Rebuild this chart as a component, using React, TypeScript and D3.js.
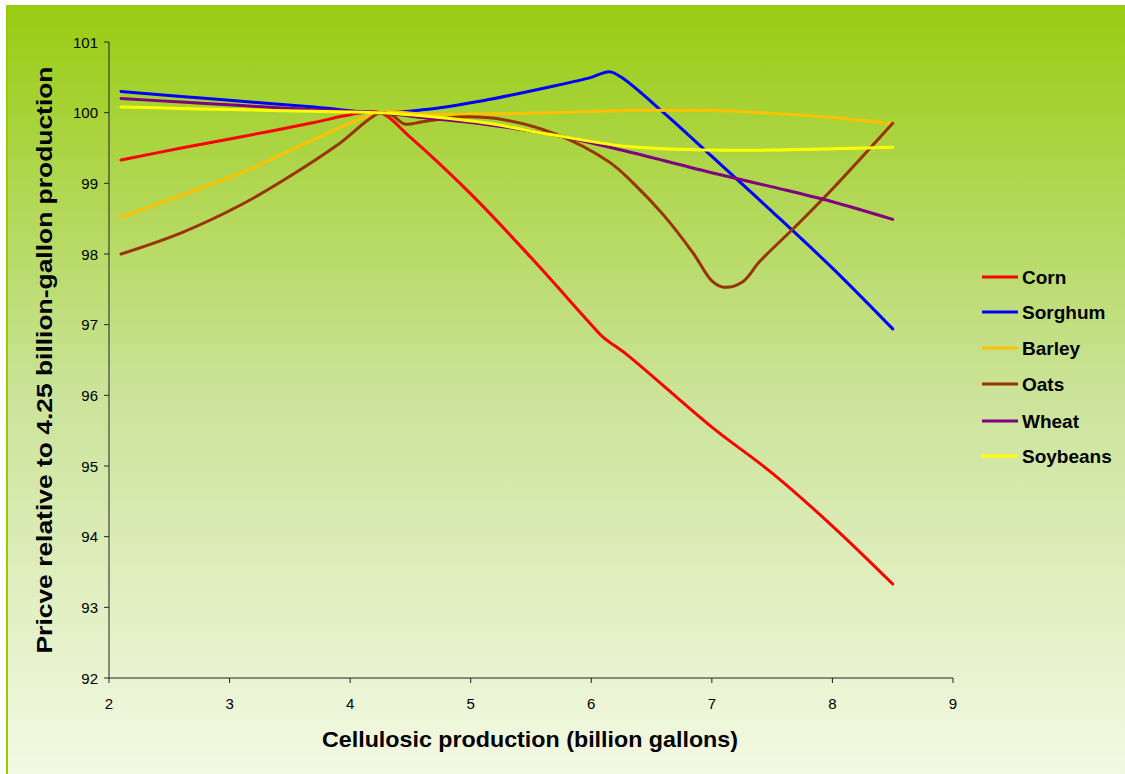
import React from 'react';
import * as d3 from 'd3';

const W = 1125;
const H = 774;

const xTicks = [2, 3, 4, 5, 6, 7, 8, 9];
const yTicks = [92, 93, 94, 95, 96, 97, 98, 99, 100, 101];

const seriesNames = ['Corn', 'Sorghum', 'Barley', 'Oats', 'Wheat', 'Soybeans'];
const seriesColors = ['#FF0000', '#0000FF', '#FFC000', '#993300', '#800080', '#FFFF00'];

const corn: [number, number][] = [
  [2.1, 99.33], [2.6, 99.5], [3.1, 99.66], [3.7, 99.86], [4.0, 99.97], [4.25, 100.0],
  [4.5, 99.65], [5.0, 98.85], [5.5, 97.95], [6.0, 97.0], [6.1, 96.82], [6.3, 96.57],
  [7.0, 95.55], [7.5, 94.9], [8.0, 94.15], [8.5, 93.33],
];
const sorghum: [number, number][] = [
  [2.1, 100.3], [2.6, 100.23], [3.1, 100.16], [3.7, 100.08], [4.25, 100.0], [4.6, 100.04],
  [5.1, 100.17], [5.7, 100.38], [6.0, 100.5], [6.15, 100.58], [6.25, 100.5], [6.6, 100.0],
  [7.0, 99.38], [7.5, 98.6], [8.0, 97.8], [8.5, 96.94],
];
const barley: [number, number][] = [
  [2.1, 98.52], [2.6, 98.83], [3.1, 99.15], [3.7, 99.62], [4.25, 100.0], [4.6, 99.98],
  [5.1, 99.98], [5.7, 100.0], [6.3, 100.03], [7.0, 100.03], [7.5, 99.99], [8.0, 99.93], [8.5, 99.84],
];
const oats: [number, number][] = [
  [2.1, 98.0], [2.6, 98.3], [3.1, 98.7], [3.5, 99.1], [3.9, 99.55], [4.25, 100.0],
  [4.35, 99.96], [4.45, 99.84], [4.6, 99.87], [4.9, 99.94], [5.2, 99.92], [5.7, 99.7],
  [6.15, 99.3], [6.35, 99.0], [6.6, 98.55], [6.85, 98.0], [7.0, 97.62], [7.1, 97.53],
  [7.25, 97.6], [7.4, 97.9], [7.7, 98.4], [8.0, 98.92], [8.5, 99.85],
];
const wheat: [number, number][] = [
  [2.1, 100.2], [2.6, 100.15], [3.1, 100.1], [3.7, 100.04], [4.25, 100.0], [4.6, 99.93],
  [5.1, 99.84], [5.7, 99.68], [6.3, 99.45], [7.0, 99.15], [7.5, 98.95], [8.0, 98.74], [8.5, 98.49],
];
const soybeans: [number, number][] = [
  [2.1, 100.08], [2.6, 100.06], [3.1, 100.04], [3.7, 100.02], [4.25, 100.0], [4.5, 99.97],
  [5.1, 99.86], [5.7, 99.68], [6.3, 99.52], [7.0, 99.47], [7.5, 99.47], [8.0, 99.49], [8.5, 99.51],
];

const seriesData = [corn, sorghum, barley, oats, wheat, soybeans];

const xTitle = 'Cellulosic production (billion gallons)';
const yTitle = 'Pricve relative to 4.25 billion-gallon production';

export default function App() {
  const x = d3.scaleLinear().domain([2, 9]).range([109, 953]);
  const y = d3.scaleLinear().domain([92, 101]).range([678, 42]);
  const line = d3
    .line<[number, number]>()
    .x((d) => x(d[0]))
    .y((d) => y(d[1]))
    .curve(d3.curveCatmullRom.alpha(0.5));

  const font = 'Arial, "Liberation Sans", sans-serif';
  const legendY = [277, 312, 348, 384, 421, 456];

  return (
    <svg
      width={W}
      height={H}
      style={{ position: 'absolute', left: 0, top: 0 }}
      xmlns="http://www.w3.org/2000/svg"
    >
      <defs>
        <linearGradient id="bg" x1="0" y1="0" x2="0" y2="1">
          <stop offset="0%" stopColor="rgb(153,204,17)" />
          <stop offset="50%" stopColor="rgb(202,227,152)" />
          <stop offset="100%" stopColor="rgb(244,249,228)" />
        </linearGradient>
      </defs>
      <rect x={0} y={0} width={W} height={H} fill="#ffffff" />
      <rect x={6} y={5} width={W - 6} height={H - 5} fill="url(#bg)" />
      <line x1={7} y1={5} x2={7} y2={H} stroke="#99CC00" strokeWidth={2} />

      {/* axes */}
      <line x1={x(2)} y1={y(92)} x2={x(9)} y2={y(92)} stroke="#222" strokeWidth={1} />
      <line x1={x(2)} y1={y(92)} x2={x(2)} y2={y(101)} stroke="#222" strokeWidth={1} />
      {xTicks.map((t) => (
        <g key={'xt' + t}>
          <line x1={x(t)} y1={y(92)} x2={x(t)} y2={y(92) + 5} stroke="#222" />
          <text x={x(t)} y={709} textAnchor="middle" fontFamily={font} fontSize={15} fill="#000">
            {t}
          </text>
        </g>
      ))}
      {yTicks.map((t) => (
        <g key={'yt' + t}>
          <line x1={x(2) - 5} y1={y(t)} x2={x(2)} y2={y(t)} stroke="#222" />
          <text x={98} y={y(t) + 5.5} textAnchor="end" fontFamily={font} fontSize={15} fill="#000">
            {t}
          </text>
        </g>
      ))}

      {/* series */}
      {seriesData.map((d, i) => (
        <path
          key={seriesNames[i]}
          d={line(d) || ''}
          fill="none"
          stroke={seriesColors[i]}
          strokeWidth={3}
          strokeLinejoin="round"
          strokeLinecap="round"
        />
      ))}

      {/* titles */}
      <text
        x={530}
        y={747}
        textAnchor="middle"
        fontFamily={font}
        fontWeight="bold"
        fontSize={21.5}
        textLength={416}
        lengthAdjust="spacingAndGlyphs"
        fill="#000"
      >
        {xTitle}
      </text>
      <text
        transform={`translate(52,${(y(92) + y(101)) / 2}) rotate(-90)`}
        x={0}
        y={0}
        textAnchor="middle"
        fontFamily={font}
        fontWeight="bold"
        fontSize={22.5}
        textLength={587}
        lengthAdjust="spacingAndGlyphs"
        fill="#000"
      >
        {yTitle}
      </text>

      {/* legend */}
      {seriesNames.map((n, i) => (
        <g key={'lg' + n}>
          <line x1={982} y1={legendY[i]} x2={1018} y2={legendY[i]} stroke={seriesColors[i]} strokeWidth={3} />
          <text x={1022} y={legendY[i] + 6.5} fontFamily={font} fontWeight="bold" fontSize={19} fill="#000">
            {n}
          </text>
        </g>
      ))}
    </svg>
  );
}
